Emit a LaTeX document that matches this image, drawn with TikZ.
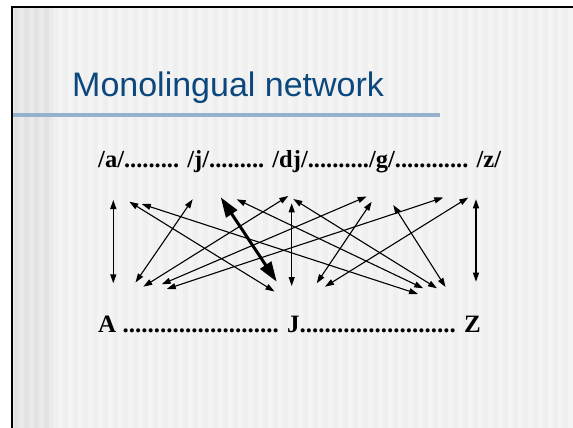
\documentclass[tikz,border=0pt]{standalone}
\usepackage{fontspec}
\setmainfont{Liberation Serif}
\newfontfamily\titlefont{Liberation Sans}
\usetikzlibrary{arrows.meta}
\definecolor{titleblue}{RGB}{12,72,125}
\definecolor{rulecol}{RGB}{150,177,204}
\definecolor{bgA}{RGB}{244,244,244}
\definecolor{bgB}{RGB}{239,239,239}
\definecolor{stripA}{RGB}{234,234,234}
\definecolor{stripB}{RGB}{227,227,227}
\tikzset{
  arr/.style={line width=1.1pt,{Triangle[length=9pt,width=6pt]}-{Triangle[length=9pt,width=6pt]}},
  thickarr/.style={line width=3pt,{Triangle[length=20pt,width=13pt]}-{Triangle[length=20pt,width=13pt]}},
  rowtext/.style={anchor=base west,inner sep=0pt,font=\fontsize{24.5}{28}\selectfont\bfseries},
  rowtextb/.style={anchor=base west,inner sep=0pt,font=\fontsize{25}{28}\selectfont\bfseries},
  titletext/.style={anchor=base west,inner sep=0pt,text=titleblue,font=\titlefont\fontsize{34}{40}\selectfont}
}
\begin{document}
\begin{tikzpicture}[x=1pt,y=-1pt]
\useasboundingbox (0,0) rectangle (573,428);
% background
\fill[white] (0,0) rectangle (573,428);
\fill[bgA] (11,7) rectangle (573,428);
\foreach \i in {0,...,52} {
  \fill[bgB] ({53+10*\i},7) rectangle ({58+10*\i},428);
}
\fill[stripA] (12,7) rectangle (53,428);
\foreach \i in {0,...,3} {
  \fill[stripB] ({14+10*\i},7) rectangle ({19+10*\i},428);
}
% frame
\draw[line width=2pt] (11.5,428) -- (11.5,7.5) -- (573,7.5);
% title and rule
\node[titletext] (title) at (72,96.7) {Monolingual network};
\fill[rulecol] (12.5,112.8) rectangle (440,117.3);
% text rows
\node[rowtext] (top) at (98,167) {/a/......... /j/......... /dj/........../g/............ /z/};
\node[rowtextb] (bottom) at (98,332) {A ......................... J......................... Z};
% endpoints
\coordinate (v1a) at (113.3,200);   \coordinate (v1b) at (113.3,283.3);
\coordinate (l2a) at (129.3,201.7); \coordinate (l2b) at (274.5,291.5);
\coordinate (l3a) at (141.7,204);   \coordinate (l3b) at (418,294);
\coordinate (l4a) at (192.7,199.3); \coordinate (l4b) at (135.5,282.5);
\coordinate (t5a) at (220.7,197.3); \coordinate (t5b) at (276.7,281.7);
\coordinate (l6a) at (236.7,199.3); \coordinate (l6b) at (423.3,288.3);
\coordinate (l7a) at (288.3,196);   \coordinate (l7b) at (143.3,286.7);
\coordinate (l8a) at (161.7,284.3); \coordinate (l8b) at (366.7,196.5);
\coordinate (l9a) at (166.7,289);   \coordinate (l9b) at (443.3,197.5);
\coordinate (v10a) at (291.7,203.3); \coordinate (v10b) at (291.7,286);
\coordinate (l11a) at (293.3,199);  \coordinate (l11b) at (437,288.3);
\coordinate (l12a) at (393.3,205);  \coordinate (l12b) at (445.5,287);
\coordinate (l13a) at (371.7,201.7); \coordinate (l13b) at (316.7,283.3);
\coordinate (l14a) at (468.3,197.5); \coordinate (l14b) at (325,286.7);
\coordinate (v15a) at (476,199.3);  \coordinate (v15b) at (476,281.7);
% connectors
\draw[arr] (v1a) -- (v1b);
\draw[arr] (l2a) -- (l2b);
\draw[arr] (l3a) -- (l3b);
\draw[arr] (l4a) -- (l4b);
\draw[thickarr] (t5a) -- (t5b);
\draw[arr] (l6a) -- (l6b);
\draw[arr] (l7a) -- (l7b);
\draw[arr] (l8a) -- (l8b);
\draw[arr] (l9a) -- (l9b);
\draw[arr] (v10a) -- (v10b);
\draw[arr] (l11a) -- (l11b);
\draw[arr] (l12a) -- (l12b);
\draw[arr] (l13a) -- (l13b);
\draw[arr] (l14a) -- (l14b);
\draw[arr] (v15a) -- (v15b);
\end{tikzpicture}
\end{document}
